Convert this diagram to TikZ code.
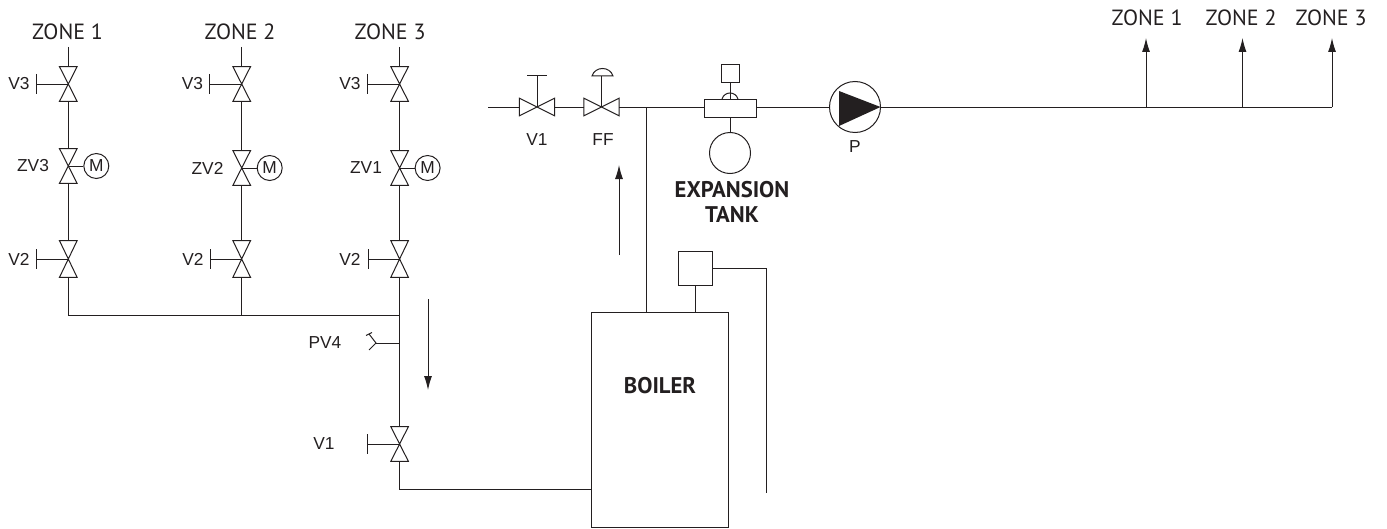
\documentclass[tikz,border=0pt]{standalone}
\usepackage{fontspec}
\setmainfont{Liberation Sans}
\newfontfamily\zonefont{PT Sans}
\usepackage{xcolor}
\usetikzlibrary{arrows.meta, positioning}
\definecolor{inchiostro}{HTML}{231F20}
\tikzset{
    tubo/.style = {line width=0.75pt, draw=inchiostro},
    freccia/.style = {line width=0.75pt, draw=inchiostro, -{Latex[length=10.5pt,width=6pt]}},
    etichetta/.style = {font=\fontsize{13}{15}\selectfont, text=inchiostro, inner sep=0pt},
    zona/.style = {font=\zonefont\fontsize{16.5}{19}\selectfont, text=inchiostro, inner sep=0pt},
    titolo/.style = {font=\zonefont\bfseries\fontsize{17}{19}\selectfont, text=inchiostro, inner sep=0pt, align=center},
    motore/.style = {circle, tubo, minimum size=18.75pt, inner sep=0pt, font=\fontsize{13}{15}\selectfont, text=inchiostro},
    scatola/.style = {rectangle, tubo, inner sep=0pt}
}
% Valvola verticale: nome, posizione
\newcommand{\valvolaV}[3][34]{
    \node[minimum width=12.75pt, minimum height=#1*0.75pt, inner sep=0pt] (#2) at #3 {};
    \draw[tubo] (#2.north west) -- (#2.south east) -- (#2.south west) -- (#2.north east) -- cycle;
}
% Valvola orizzontale
\newcommand{\valvolaH}[2]{
    \node[minimum width=26pt, minimum height=12.75pt, inner sep=0pt] (#1) at #2 {};
    \draw[tubo] (#1.north west) -- (#1.south east) -- (#1.north east) -- (#1.south west) -- cycle;
}
% Manopola a sinistra
\newcommand{\manopola}[2]{
    \draw[tubo] (#1.center) -- ++(-#2,0) ++(0,-10) -- ++(0,20);
}

\begin{document}
\begin{tikzpicture}[x=0.75pt, y=-0.75pt]
    \useasboundingbox (0,0) rectangle (1387,528);
    % Colonne delle zone
    \foreach \c/\x/\zx/\zy/\zn/\zv/\xz/\xv/\xw in {a/68.3/67.5/166/ZONE 1/ZV3/33/19/19, b/241.7/240/168/ZONE 2/ZV2/207.5/192.5/193, c/399.6/390/168/ZONE 3/ZV1/366/350/350}{
        \node[zona] (zona\c) at (\zx,32) {\zn};
        \coordinate (inizio\c) at (\x,47);
        \valvolaV{vt\c}{(\x,84)}
        \valvolaV{vz\c}{(\x,\zy)}
        \valvolaV[36]{vb\c}{(\x,259)}
        \manopola{vt\c}{32}
        \manopola{vb\c}{31.5}
        \node[motore, right=15pt*0.75 of vz\c.center, anchor=west] (m\c) {M};
        \draw[tubo] (vz\c.center) -- (m\c);
        \draw[tubo] (inizio\c) -- (vt\c.north);
        \draw[tubo] (vt\c.south) -- (vz\c.north);
        \draw[tubo] (vz\c.south) -- (vb\c.north);
        \node[etichetta] (lt\c) at (\xv,84) {V3};
        \node[etichetta] (lz\c) at (\xz,\zy) {\zv};
        \node[etichetta] (lb\c) at (\xw,259) {V2};
    }
    % Collettore
    \coordinate (nodoa) at (68.3,315);
    \coordinate (nodob) at (241.7,315);
    \coordinate (nodoc) at (399.6,315);
    \coordinate (nodop) at (399.6,343);
    \draw[tubo] (vba.south) -- (nodoa) -- (nodoc);
    \draw[tubo] (vbb.south) -- (nodob);
    \draw[tubo] (vbc.south) -- (nodop);
    % PV4
    \coordinate (pva) at (376,343);
    \draw[tubo] (nodop) -- (pva);
    \draw[tubo] (369,350) -- (pva) -- (369,334);
    \draw[tubo] (366,335.5) -- (372,332.5);
    \node[etichetta] (lpv) at (325,343) {PV4};
    % Ritorno in caldaia
    \valvolaV{vr}{(399.6,444)}
    \manopola{vr}{32}
    \node[etichetta] (lvr) at (324,444) {V1};
    \node[scatola, minimum width=102.75pt, minimum height=161.25pt, anchor=north west] (caldaia) at (591,312) {};
    \node[titolo] (lcaldaia) at (660,386) {BOILER};
    \coordinate (ingresso) at (caldaia.west |- 0,489);
    \draw[tubo] (nodop) -- (vr.north);
    \draw[tubo] (vr.south) |- (ingresso);
    \coordinate (giu1) at (428,299);
    \coordinate (giu2) at (428,390);
    \draw[freccia] (giu1) -- (giu2);
    % Controllo caldaia
    \node[scatola, minimum size=25.5pt, anchor=north west] (controllo) at (678,251) {};
    \draw[tubo] (controllo.south) -- (controllo.south |- caldaia.north);
    \coordinate (filo) at (766,493);
    \draw[tubo] (controllo.east) -| (filo);
    % Linea di mandata
    \coordinate (partenza) at (488,107);
    \coordinate (tee) at (646,107);
    \valvolaH{vu}{(537,107)}
    \valvolaH{ff}{(601.5,107)}
    \node[scatola, minimum width=39pt, minimum height=13.5pt] (vaso) at (730,108) {};
    \node[circle, draw=inchiostro, fill=white, line width=0.75pt, minimum size=38.25pt, inner sep=0pt] (pompa) at (855,107) {};
    \draw[tubo] (partenza) -- (vu.west);
    \draw[tubo] (vu.east) -- (ff.west);
    \draw[tubo] (ff.east) -- (vaso.west |- tee);
    \draw[tubo] (tee) -- (tee |- caldaia.north);
    \draw[tubo] (vaso.east |- tee) -- (pompa.west);
    \fill[inchiostro] (839,91) -- (880.5,107) -- (839,126) -- cycle;
    % Comandi
    \draw[tubo] (vu.center) -- (537,76) (527,76) -- (547,76);
    \draw[tubo] (ff.center) -- (601.5,76);
    \draw[tubo] (592,76) .. controls (595,66) and (610,66) .. (613,76) -- cycle;
    \node[etichetta] (lvu) at (537,140) {V1};
    \node[etichetta] (lff) at (603,140) {FF};
    \node[etichetta] (lp) at (855,147) {P};
    % Vaso di espansione
    \node[scatola, minimum size=13.5pt, anchor=south] (servo) at (730,83) {};
    \draw[tubo] (722,99) .. controls (724.5,91) and (735.5,91) .. (738,99);
    \draw[tubo] (servo.south) -- (vaso.north);
    \node[circle, draw=inchiostro, line width=0.75pt, minimum size=30.75pt, inner sep=0pt] (serbatoio) at (730,153) {};
    \draw[tubo] (vaso.south) -- (serbatoio.north);
    \node[titolo] (lvaso) at (732,202) {EXPANSION\\[0pt]TANK};
    \coordinate (su1) at (619,255);
    \coordinate (su2) at (619,165);
    \draw[freccia] (su1) -- (su2);
    % Uscite verso le zone
    \coordinate (fine) at (1332,107);
    \draw[tubo] (pompa.east) -- (fine);
    \foreach \n/\ax/\lx/\zn in {1/1146/1147/ZONE 1, 2/1242.5/1241/ZONE 2, 3/1332/1331/ZONE 3}{
        \coordinate (base\n) at (\ax,107);
        \coordinate (testa\n) at (\ax,38);
        \draw[freccia] (base\n) -- (testa\n);
        \node[zona] (uscita\n) at (\lx,18) {\zn};
    }
\end{tikzpicture}
\end{document}
